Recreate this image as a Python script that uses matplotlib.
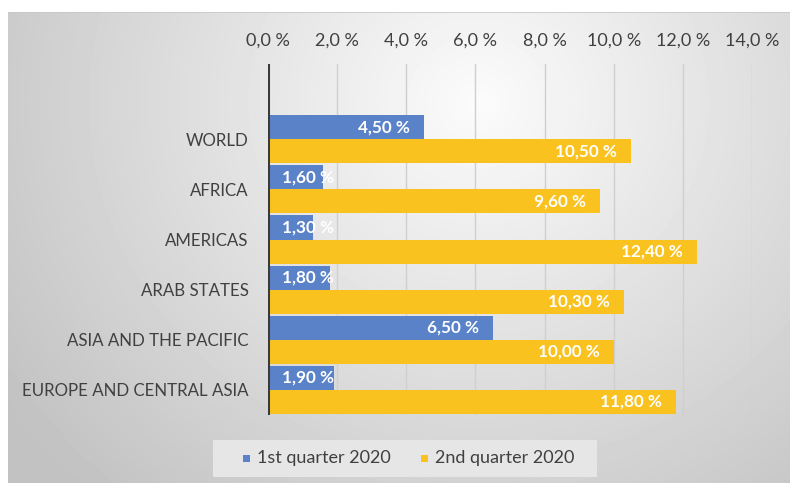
import numpy as np
import matplotlib.pyplot as plt
from matplotlib.patches import Rectangle

plt.rcParams['font.family'] = ['Lato', 'DejaVu Sans']

categories = ["WORLD", "AFRICA", "AMERICAS", "ARAB STATES",
              "ASIA AND THE PACIFIC", "EUROPE AND CENTRAL ASIA"]
q1_values = [4.50, 1.60, 1.30, 1.80, 6.50, 1.90]
q2_values = [10.50, 9.60, 12.40, 10.30, 10.00, 11.80]
series_names = ["1st quarter 2020", "2nd quarter 2020"]
x_ticks = [0, 2, 4, 6, 8, 10, 12, 14]

BLUE = "#5A82C9"
YELLOW = "#F9C21F"

W, H = 790, 483
fig = plt.figure(figsize=(W / 100, H / 100), dpi=100)
fig.patch.set_facecolor("white")

# background panel with radial grey gradient
bg = fig.add_axes([8 / W, 0, 1 - 8 / W, 1 - 12 / H])
bg.set_axis_off()
yy, xx = np.mgrid[0:471, 0:782]
d = np.sqrt(((xx - 470) / 560.0) ** 2 + ((yy - 90) / 520.0) ** 2)
shade = np.clip(0.985 - 0.22 * d, 0.76, 1.0)
bg.imshow(shade, cmap="gray", vmin=0, vmax=1, aspect="auto",
          extent=[0, 1, 0, 1], origin="upper")
bg.plot([0, 1], [1, 1], color="#c8c8c8", lw=1.2, transform=bg.transAxes)

# legend box
fig.patches.append(Rectangle((213 / W, 1 - 477 / H), 384 / W, 37 / H,
                             transform=fig.transFigure, facecolor="#e6e6e6",
                             edgecolor="none", zorder=1))

ax = fig.add_axes([268 / W, 1 - 415 / H, 484 / W, 351 / H])
ax.patch.set_alpha(0)

y = np.arange(len(categories))
h = 0.48
ax.barh(y - h / 2, q1_values, height=h, color=BLUE, zorder=3)
ax.barh(y + h / 2, q2_values, height=h, color=YELLOW, zorder=3)

ax.set_xlim(0, 14)
ax.set_ylim(5.5, -1.5)
ax.set_xticks(x_ticks)
ax.set_xticklabels([f"{v:.1f} %".replace(".", ",") for v in x_ticks])
ax.xaxis.tick_top()
ax.tick_params(axis="x", length=0, pad=11, labelsize=13, colors="#404040")
ax.set_yticks(y)
ax.set_yticklabels(categories)
ax.tick_params(axis="y", length=0, pad=14, labelsize=12.2, colors="#404040")

for s in ax.spines.values():
    s.set_visible(False)
for v in x_ticks[1:]:
    ax.axvline(v, color="#cfcfcf", lw=1, zorder=1)
ax.axvline(0, color="#3a3a3a", lw=2.2, zorder=4)

# data labels
def label(vals, offs):
    for yi, v in zip(y + offs, vals):
        txt = f"{v:.2f} %".replace(".", ",")
        if v > 3:
            ax.annotate(txt, (v, yi), xytext=(-10, 0), textcoords="offset points",
                        ha="right", va="center", color="white",
                        fontsize=12.3, fontweight="bold", zorder=5)
        else:
            ax.annotate(txt, (0, yi), xytext=(10, 0), textcoords="offset points",
                        ha="left", va="center", color="white",
                        fontsize=12.3, fontweight="bold", zorder=5)

label(q1_values, -h / 2)
label(q2_values, h / 2)

# legend entries
for xm, col, name in [(243, BLUE, series_names[0]), (421, YELLOW, series_names[1])]:
    fig.patches.append(Rectangle((xm / W, 1 - 462 / H), 7 / W, 7 / H,
                                 transform=fig.transFigure, facecolor=col,
                                 edgecolor="none", zorder=2))
    fig.text((xm + 14) / W, 1 - 458.5 / H, name, ha="left", va="center",
             fontsize=13, color="#404040")

fig.savefig("out.png", dpi=100)
